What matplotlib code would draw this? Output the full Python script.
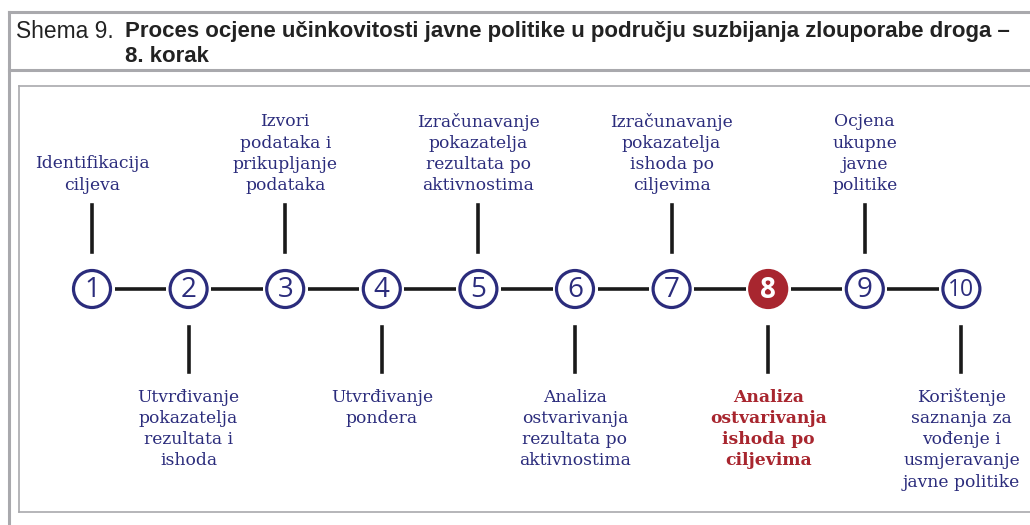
import matplotlib.pyplot as plt
from matplotlib.patches import Circle

title_prefix = "Shema 9."
title_lines = ["Proces ocjene učinkovitosti javne politike u području suzbijanja zlouporabe droga –",
               "8. korak"]

steps = list(range(1, 11))
step_labels = [
    "Identifikacija\nciljeva",
    "Utvrđivanje\npokazatelja\nrezultata i\nishoda",
    "Izvori\npodataka i\nprikupljanje\npodataka",
    "Utvrđivanje\npondera",
    "Izračunavanje\npokazatelja\nrezultata po\naktivnostima",
    "Analiza\nostvarivanja\nrezultata po\naktivnostima",
    "Izračunavanje\npokazatelja\nishoda po\nciljevima",
    "Analiza\nostvarivanja\nishoda po\nciljevima",
    "Ocjena\nukupne\njavne\npolitike",
    "Korištenje\nsaznanja za\nvođenje i\nusmjeravanje\njavne politike",
]
current_step = 8

NAVY = "#2b2c7c"
RED = "#a8262f"
GRAY = "#a9a9ad"

W, H = 1030, 525
fig = plt.figure(figsize=(W / 100, H / 100), dpi=100)
ax = fig.add_axes([0, 0, 1, 1])
ax.set_xlim(0, W)
ax.set_ylim(H, 0)
ax.set_aspect("equal")
ax.axis("off")

# frame
ax.plot([9, 9], [12, H], color=GRAY, lw=2.2)
ax.plot([9, W], [12, 12], color=GRAY, lw=2.2)
ax.plot([9, W], [70, 70], color=GRAY, lw=2.2)
ax.plot([19, W], [86, 86], color=GRAY, lw=1.2)
ax.plot([19, 19], [86, 512], color=GRAY, lw=1.2)
ax.plot([19, W], [512, 512], color=GRAY, lw=1.2)

# title
ax.text(16, 32, title_prefix, fontsize=16.4, family="Liberation Sans",
        color="#222222", va="center", ha="left")
for i, line in enumerate(title_lines):
    ax.text(125, 32 + i * 25, line, fontsize=16.0, family="Liberation Sans",
            fontweight="bold", color="#222222", va="center", ha="left")

x0, dx, yc, r = 92, 96.6, 289, 18.5
xs = [x0 + (s - 1) * dx for s in steps]

# connectors
for a, b in zip(xs[:-1], xs[1:]):
    ax.plot([a + r + 4, b - r - 4], [yc, yc], color="#1a1a1a", lw=2.6,
            solid_capstyle="butt")

for s, x, label in zip(steps, xs, step_labels):
    active = s == current_step
    col = RED if active else NAVY
    ax.add_patch(Circle((x, yc), r, facecolor=RED if active else "white",
                        edgecolor=col, lw=2.3, zorder=3))
    ax.text(x, yc + 1, str(s), ha="center", va="center", zorder=4,
            family="Open Sans", fontsize=20 if s < 10 else 16.5,
            fontweight="bold" if active else "normal",
            color="white" if active else NAVY)
    nlines = label.count("\n") + 1
    if s % 2 == 1:
        ax.plot([x, x], [205, 252], color="#1a1a1a", lw=2.6)
        y_top = 185 - (nlines - 1) * 21
    else:
        ax.plot([x, x], [327, 372], color="#1a1a1a", lw=2.6)
        y_top = 397
    for j, ln in enumerate(label.split("\n")):
        ax.text(x, y_top + j * 21.3, ln, ha="center", va="center",
                fontsize=12.3, family="DejaVu Serif", color=col,
                fontweight="bold" if active else "normal")

fig.savefig("out.png", dpi=100)
